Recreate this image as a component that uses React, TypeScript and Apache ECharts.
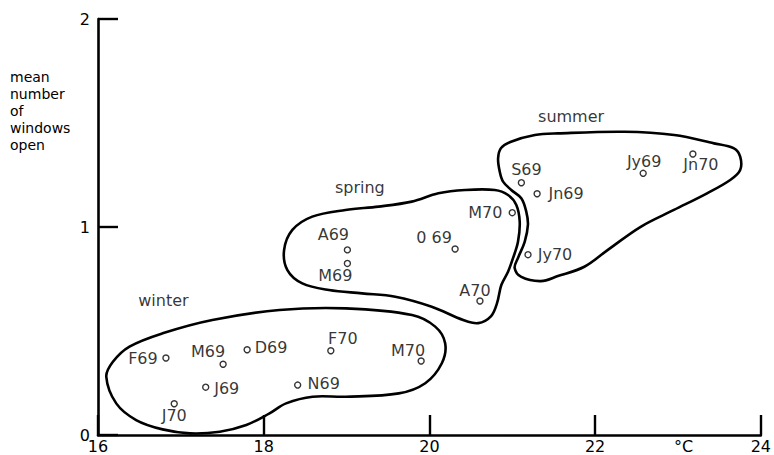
import React, { useEffect, useRef } from "react";
import * as echarts from "echarts";

// ---- data ----
const winterNames = ["F69", "M69", "D69", "F70", "M70", "J69", "N69", "J70"];
const winterTemp = [16.82, 17.51, 17.8, 18.81, 19.9, 17.3, 18.41, 16.92];
const winterWindows = [0.37, 0.34, 0.41, 0.405, 0.356, 0.23, 0.24, 0.15];

const springNames = ["A69", "M69", "0 69", "M70", "A70"];
const springTemp = [19.01, 19.01, 20.31, 21.0, 20.61];
const springWindows = [0.89, 0.825, 0.894, 1.069, 0.644];

const summerNames = ["S69", "Jn69", "Jy70", "Jy69", "Jn70"];
const summerTemp = [21.11, 21.3, 21.19, 22.58, 23.18];
const summerWindows = [1.213, 1.16, 0.867, 1.258, 1.351];

const seasonNames = ["winter", "spring", "summer"];
const seasonLabelTemp = [16.79, 19.16, 21.71];
const seasonLabelWindows = [0.649, 1.188, 1.529];

const xTicks = [16, 18, 20, 22, 24];
const yTicks = [0, 1, 2];
const yTitleLines = ["mean", "number", "of", "windows", "open"];

const winterOutline: number[][] = [
  [16.1, 0.28], [16.18, 0.352], [16.38, 0.425], [16.78, 0.489], [17.38, 0.553],
  [18.19, 0.601], [18.99, 0.609], [19.79, 0.577], [20.07, 0.521], [20.19, 0.441],
  [20.15, 0.345], [19.95, 0.249], [19.63, 0.2], [18.99, 0.184], [18.59, 0.184],
  [18.27, 0.152], [18.07, 0.104], [17.79, 0.048], [17.47, 0.016], [17.11, 0.008],
  [16.78, 0.027], [16.46, 0.072], [16.22, 0.152],
];
const springOutline: number[][] = [
  [18.246, 0.889], [18.346, 0.986], [18.586, 1.05], [18.987, 1.082], [19.387, 1.098],
  [19.787, 1.122], [20.108, 1.162], [20.429, 1.178], [20.789, 1.178], [20.949, 1.154],
  [21.049, 1.106], [21.09, 1.025], [21.069, 0.929], [21.009, 0.85], [20.949, 0.785],
  [20.868, 0.721], [20.817, 0.635], [20.745, 0.572], [20.589, 0.538], [20.408, 0.553],
  [20.028, 0.617], [19.588, 0.665], [19.187, 0.681], [18.787, 0.697], [18.466, 0.729],
  [18.286, 0.793],
];
const summerOutline: number[][] = [
  [20.865, 1.38], [20.985, 1.41], [21.273, 1.442], [21.55, 1.45], [22.354, 1.458],
  [22.955, 1.442], [23.435, 1.402], [23.676, 1.378], [23.751, 1.338], [23.751, 1.274],
  [23.631, 1.226], [23.351, 1.162], [22.951, 1.082], [22.55, 1.001], [22.15, 0.889],
  [21.87, 0.809], [21.55, 0.764], [21.345, 0.74], [21.109, 0.76], [21.029, 0.803],
  [21.069, 0.851], [21.15, 0.929], [21.189, 1.01], [21.169, 1.074], [21.109, 1.138],
  [20.988, 1.178], [20.889, 1.218], [20.849, 1.266], [20.829, 1.33],
];

// ---- layout: label offsets (pixels) from each point ----
const winterLabelOffsets = [[-23, 0], [-15, -13], [24, -2], [12, -12], [-13, -10], [21, 1], [26, -2], [0, 12]];
const springLabelOffsets = [[-14, -15], [-12, 12], [-21, -12], [-27, 0], [-5, -11]];
const summerLabelOffsets = [[5, -13], [29, 0], [27, 0], [1, -12], [8, 11]];

const FONT = "DejaVu Sans";
const INK = "#000";

function pointSeries(names: string[], xs: number[], ys: number[], offs: number[][]) {
  return {
    type: "scatter",
    symbol: "circle",
    symbolSize: 6,
    itemStyle: { color: "#fff", borderColor: INK, borderWidth: 1.4 },
    data: names.map((n, i) => ({
      value: [xs[i], ys[i]],
      name: n,
      label: {
        show: true,
        position: "inside",
        offset: offs[i],
        formatter: n,
        color: INK,
        fontFamily: FONT,
        fontSize: 16,
        align: "center",
        verticalAlign: "middle",
      },
    })),
    z: 5,
  };
}

function outlineSeries(outline: number[][]) {
  return {
    type: "custom",
    coordinateSystem: "cartesian2d",
    data: [[outline[0][0], outline[0][1]]],
    clip: false,
    silent: true,
    renderItem: (_params: any, api: any) => ({
      type: "polygon",
      shape: { points: outline.map((p) => api.coord(p)), smooth: 0.35 },
      style: { fill: "none", stroke: INK, lineWidth: 2.6 },
    }),
    z: 3,
  };
}

export default function App() {
  const ref = useRef<HTMLDivElement>(null);
  useEffect(() => {
    if (!ref.current) return;
    const chart = echarts.init(ref.current, undefined, { renderer: "svg" });
    const axisLine = { show: true, lineStyle: { color: INK, width: 2.6 } };
    const axisTick = { show: true, inside: true, length: 20, lineStyle: { color: INK, width: 2.4 } };
    chart.setOption({
      animation: false,
      backgroundColor: "#fff",
      grid: { left: 98, right: 10, top: 19, bottom: 20, containLabel: false },
      xAxis: {
        type: "value",
        min: xTicks[0],
        max: xTicks[xTicks.length - 1],
        interval: 2,
        axisLine,
        axisTick,
        splitLine: { show: false },
        axisLabel: { color: INK, fontFamily: FONT, fontSize: 16, margin: 3 },
      },
      yAxis: {
        type: "value",
        min: yTicks[0],
        max: yTicks[yTicks.length - 1],
        interval: 1,
        axisLine,
        axisTick,
        splitLine: { show: false },
        axisLabel: { color: INK, fontFamily: FONT, fontSize: 16, margin: 8 },
      },
      graphic: [
        ...yTitleLines.map((t, i) => ({
          type: "text",
          left: 10,
          top: 70 + i * 17,
          style: { text: t, fontFamily: FONT, fontSize: 14, fill: INK },
        })),
        {
          type: "text",
          left: 674,
          top: 438,
          style: { text: "°C", fontFamily: FONT, fontSize: 16, fill: INK },
        },
      ],
      series: [
        outlineSeries(winterOutline),
        outlineSeries(springOutline),
        outlineSeries(summerOutline),
        pointSeries(winterNames, winterTemp, winterWindows, winterLabelOffsets),
        pointSeries(springNames, springTemp, springWindows, springLabelOffsets),
        pointSeries(summerNames, summerTemp, summerWindows, summerLabelOffsets),
        {
          type: "scatter",
          symbolSize: 0,
          data: seasonNames.map((n, i) => ({
            value: [seasonLabelTemp[i], seasonLabelWindows[i]],
            name: n,
          })),
          label: {
            show: true,
            position: "inside",
            formatter: (p: any) => p.name,
            color: INK,
            fontFamily: FONT,
            fontSize: 16,
          },
          z: 5,
        },
      ],
    });
    return () => chart.dispose();
  }, []);
  return (
    <div
      ref={ref}
      style={{ position: "fixed", left: 0, top: 0, width: 774, height: 455, background: "#fff" }}
    />
  );
}
